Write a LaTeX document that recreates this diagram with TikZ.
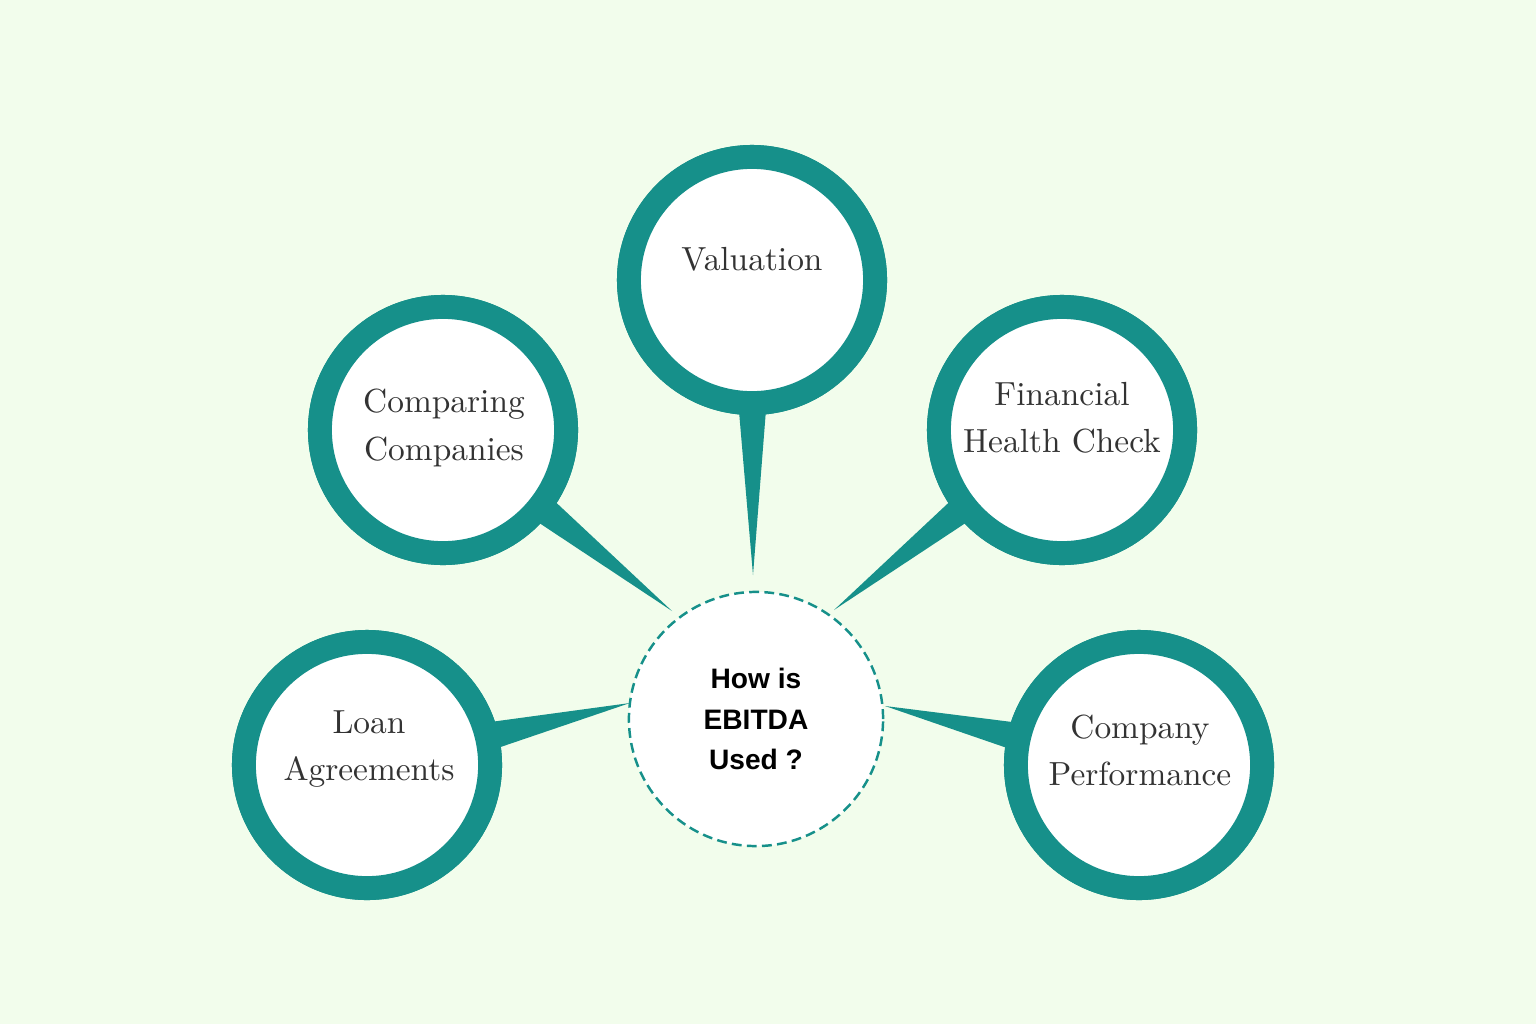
\documentclass[tikz,border=0pt]{standalone}
\usepackage{fontspec}
\newfontfamily\hubfont{Liberation Sans}
\usetikzlibrary{calc}
\definecolor{tealring}{HTML}{16908A}
\definecolor{bgmint}{HTML}{F2FDEC}
\definecolor{inktext}{HTML}{333333}
\begin{document}
\begin{tikzpicture}[x=0.01cm,y=-0.01cm,
  bubble/.style={circle,draw=tealring,line width=6.8pt,fill=white,minimum size=2.46cm,inner sep=0pt},
  lbl/.style={align=center,text=inktext,inner sep=0pt,font=\fontsize{9.5}{13.4}\selectfont},
  hub/.style={circle,draw=tealring,line width=0.7pt,dash pattern=on 2.8pt off 1.5pt,fill=white,minimum size=2.54cm,inner sep=0pt,align=center,font=\hubfont\bfseries\fontsize{8}{11.4}\selectfont},
  tail/.style={fill=tealring}]
\fill[bgmint] (0,0) rectangle (1536,1024);
\useasboundingbox (0,0) rectangle (1536,1024);
% bubbles and the tips of their tails
\node[bubble] (val)  at (752,280) {};
\node[bubble] (comp) at (443,430) {};
\node[bubble] (fin)  at (1062,430) {};
\node[bubble] (loan) at (367,765) {};
\node[bubble] (perf) at (1139,765) {};
\coordinate (valtip)  at (753,575);
\coordinate (comptip) at (672,611);
\coordinate (fintip)  at (834,610);
\coordinate (loantip) at (630,703);
\coordinate (perftip) at (885,706);
\foreach \b in {val,comp,fin,loan,perf}
  \fill[tail] (\b tip) -- ($(\b)!1.3cm!6:(\b tip)$) -- ($(\b)!1.3cm!-6:(\b tip)$) -- cycle;
% redraw rings on top of the tails
\foreach \b in {val,comp,fin,loan,perf}
  \node[bubble] at (\b) {};
\node[lbl] (valt)  at ($(val)+(0,-21)$) {Valuation};
\node[lbl] (compt) at ($(comp)+(1,-2)$) {Comparing\\Companies};
\node[lbl] (fint)  at ($(fin)+(0,-12)$) {Financial\\Health Check};
\node[lbl] (loant) at ($(loan)+(2,-16)$) {Loan\\Agreements};
\node[lbl] (perft) at ($(perf)+(1,-15)$) {Company\\Performance};
\node[hub] (ebitda) at (756,719) {How is\\EBITDA\\Used ?};
\end{tikzpicture}
\end{document}
